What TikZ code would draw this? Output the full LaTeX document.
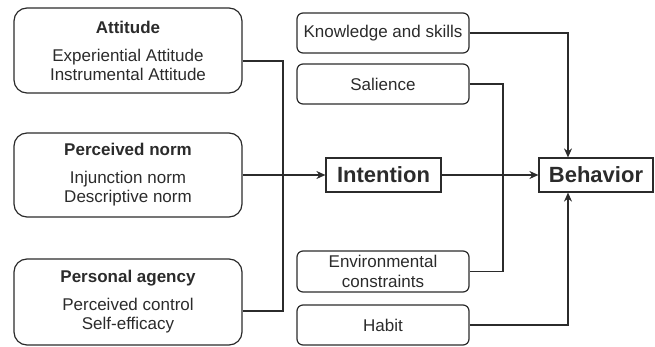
\documentclass[tikz,border=0pt]{standalone}
\usepackage{fontspec}
\setmainfont{Liberation Sans}
\usetikzlibrary{
    arrows.meta,
    positioning,
}
\definecolor{inkgray}{HTML}{2B2B2B}
\tikzstyle{factor}=[draw,rectangle,rounded corners=13pt,line width=1.2pt,minimum width=228pt,minimum height=85pt,align=center,inner sep=0pt,font=\fontsize{17}{19}\selectfont]
\tikzstyle{extra}=[draw,rectangle,rounded corners=6pt,line width=1.2pt,minimum width=172pt,minimum height=40pt,align=center,inner sep=0pt,font=\fontsize{17}{20}\selectfont]
\tikzstyle{core}=[draw,rectangle,line width=1.2pt,minimum width=115pt,minimum height=34pt,inner sep=0pt,font=\fontsize{22}{24}\selectfont\bfseries]
\tikzstyle{link}=[line width=1.2pt]
\tikzstyle{arrow}=[link,-{Stealth[length=9pt,width=8pt]}]

\begin{document}
\begin{tikzpicture}[x=1pt,y=-1pt,color=inkgray]
                \useasboundingbox (0,0) rectangle (655,347);
                % left column
                \node[factor] (att) at (128,50.5) {\textbf{Attitude}\\[9pt]Experiential Attitude\\Instrumental Attitude};
                \node[factor,minimum height=84pt] (norm) at (128,175) {\textbf{Perceived norm}\\[9pt]Injunction norm\\Descriptive norm};
                \node[factor,minimum height=86pt] (agency) at (128,302) {\textbf{Personal agency}\\[9pt]Perceived control\\Self-efficacy};
                % right column
                \node[extra] (know) at (383,33) {Knowledge and skills};
                \node[extra] (sal) at (383,84) {Salience};
                \node[extra,minimum height=41pt] (env) at (383,271.5) {Environmental\\constraints};
                \node[extra] (habit) at (383,325) {Habit};
                \node[core] (int) at (383.5,175) {Intention};
                \node[core,minimum width=114pt] (beh) at (596,175) {Behavior};
                % connectors
                \coordinate (merge) at (283,175);
                \coordinate (bend) at (503,84);
                \coordinate (topin) at ([xshift=-28pt]beh.north);
                \coordinate (botin) at ([xshift=-28pt]beh.south);
                \draw[link] ([yshift=-10.5pt]att.east) -| (merge) |- ([yshift=-9pt]agency.east);
                \draw[arrow] (norm.east) -- (int.west);
                \draw[arrow] (int.east) -- (beh.west);
                \draw[link] (sal.east) -| (bend |- env.east) -- (env.east);
                \draw[arrow] (know.east) -| (topin);
                \draw[arrow] (habit.east) -| (botin);
\end{tikzpicture}
\end{document}
